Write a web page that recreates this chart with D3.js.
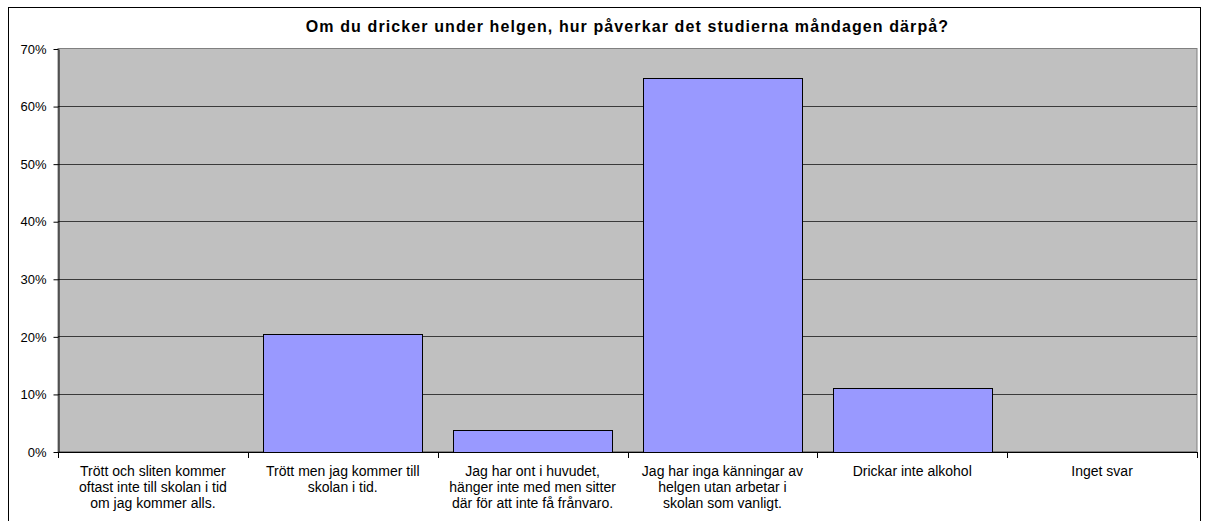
<!DOCTYPE html>
<html>
<head>
<meta charset="utf-8">
<title>Om du dricker under helgen</title>
<style>
    body { margin: 0; background: #fff; }
    svg text { font-family: "Liberation Sans", Arial, sans-serif; fill: #000; }
</style>
</head>
<body>
<svg id="chart"></svg>
<script src="https://d3js.org/d3.v7.min.js"></script>
<script>

const title = "Om du dricker under helgen, hur påverkar det studierna måndagen därpå?";
const categories = ["c1", "c2", "c3", "c4", "c5", "c6"];
const catLabels = [
    ["Trött och sliten kommer", "oftast inte till skolan i tid", "om jag kommer alls."],
    ["Trött men jag kommer till", "skolan i tid."],
    ["Jag har ont i huvudet,", "hänger inte med men sitter", "där för att inte få frånvaro."],
    ["Jag har inga känningar av", "helgen utan arbetar i", "skolan som vanligt."],
    ["Drickar inte alkohol"],
    ["Inget svar"]
];
const values = [0, 20.4, 3.7, 64.8, 11.1, 0];
const yTicks = [0, 10, 20, 30, 40, 50, 60, 70];

const svgWidth = 1207, svgHeight = 521;
const plot = {left: 58, top: 48.5, right: 1197, bottom: 451.5};

const svg = d3.select("#chart")
    .attr("width", svgWidth)
    .attr("height", svgHeight);

// outer chart frame (bottom edge runs off the picture)
svg.append("rect")
    .attr("x", 8.5).attr("y", 7.5)
    .attr("width", 1192).attr("height", 540)
    .attr("fill", "#fff")
    .attr("stroke", "#000")
    .attr("stroke-width", 1);

const x = d3.scaleBand()
    .domain(categories)
    .range([plot.left, plot.right])
    .paddingInner(0.165)
    .paddingOuter(0.0825);
const xEdge = d3.scaleLinear().domain([0, categories.length]).range([plot.left, plot.right]);
const y = d3.scaleLinear().domain([0, 70]).range([plot.bottom, plot.top]);

// plot background
svg.append("rect")
    .attr("x", plot.left).attr("y", plot.top)
    .attr("width", plot.right - plot.left)
    .attr("height", plot.bottom - plot.top)
    .attr("fill", "#c0c0c0")
    .attr("stroke", "#808080")
    .attr("stroke-width", 1);

// gridlines
svg.append("g")
    .selectAll("line")
    .data(yTicks.filter(d => d > 0 && d < 70))
    .join("line")
    .attr("x1", plot.left).attr("x2", plot.right)
    .attr("y1", d => Math.round(y(d)) + 0.5)
    .attr("y2", d => Math.round(y(d)) + 0.5)
    .attr("stroke", "#3a3a3a")
    .attr("stroke-width", 1);

// bars
svg.append("g")
    .selectAll("rect")
    .data(values.map((v, i) => ({cat: categories[i], v: v})).filter(d => d.v > 0))
    .join("rect")
    .attr("x", d => Math.round(x(d.cat)) + 0.5)
    .attr("y", d => Math.round(y(d.v)) + 0.5)
    .attr("width", Math.round(x.bandwidth()))
    .attr("height", d => Math.round(y(0)) - Math.round(y(d.v)))
    .attr("fill", "#9999ff")
    .attr("stroke", "#000")
    .attr("stroke-width", 1);

// y axis
const yAxis = svg.append("g")
    .attr("transform", "translate(" + (plot.left + 0.5) + ",0.5)")
    .call(d3.axisLeft(y).tickValues(yTicks).tickFormat(d => d + "%").tickSize(5).tickSizeOuter(0));
yAxis.select(".domain").attr("stroke", "#000");
yAxis.selectAll(".tick line").attr("stroke", "#000");
yAxis.selectAll(".tick text")
    .attr("x", -12)
    .attr("font-size", "13px")
    .attr("font-family", "Liberation Sans, Arial, sans-serif");

// x axis
const xAxisG = svg.append("g");
xAxisG.append("line")
    .attr("x1", plot.left).attr("x2", plot.right + 0.5)
    .attr("y1", Math.round(plot.bottom) + 0.5)
    .attr("y2", Math.round(plot.bottom) + 0.5)
    .attr("stroke", "#000");
xAxisG.selectAll("line.tk")
    .data(d3.range(categories.length + 1))
    .join("line")
    .attr("class", "tk")
    .attr("x1", d => Math.round(xEdge(d)) + 0.5)
    .attr("x2", d => Math.round(xEdge(d)) + 0.5)
    .attr("y1", Math.round(plot.bottom))
    .attr("y2", Math.round(plot.bottom) + 6)
    .attr("stroke", "#000");

// category labels
const lab = svg.append("g")
    .selectAll("text")
    .data(categories)
    .join("text")
    .attr("x", d => x(d) + x.bandwidth() / 2)
    .attr("y", 476)
    .attr("text-anchor", "middle")
    .attr("font-size", "14px");
lab.selectAll("tspan")
    .data((d, i) => catLabels[i])
    .join("tspan")
    .attr("x", function() { return this.parentNode.getAttribute("x"); })
    .attr("dy", (d, i) => i === 0 ? 0 : 16)
    .text(d => d);

// title
svg.append("text")
    .attr("x", (plot.left + plot.right) / 2)
    .attr("y", 32)
    .attr("text-anchor", "middle")
    .attr("font-size", "16px")
    .attr("font-weight", "bold")
    .attr("letter-spacing", "1.1px")
    .text(title);

</script>
</body>
</html>
